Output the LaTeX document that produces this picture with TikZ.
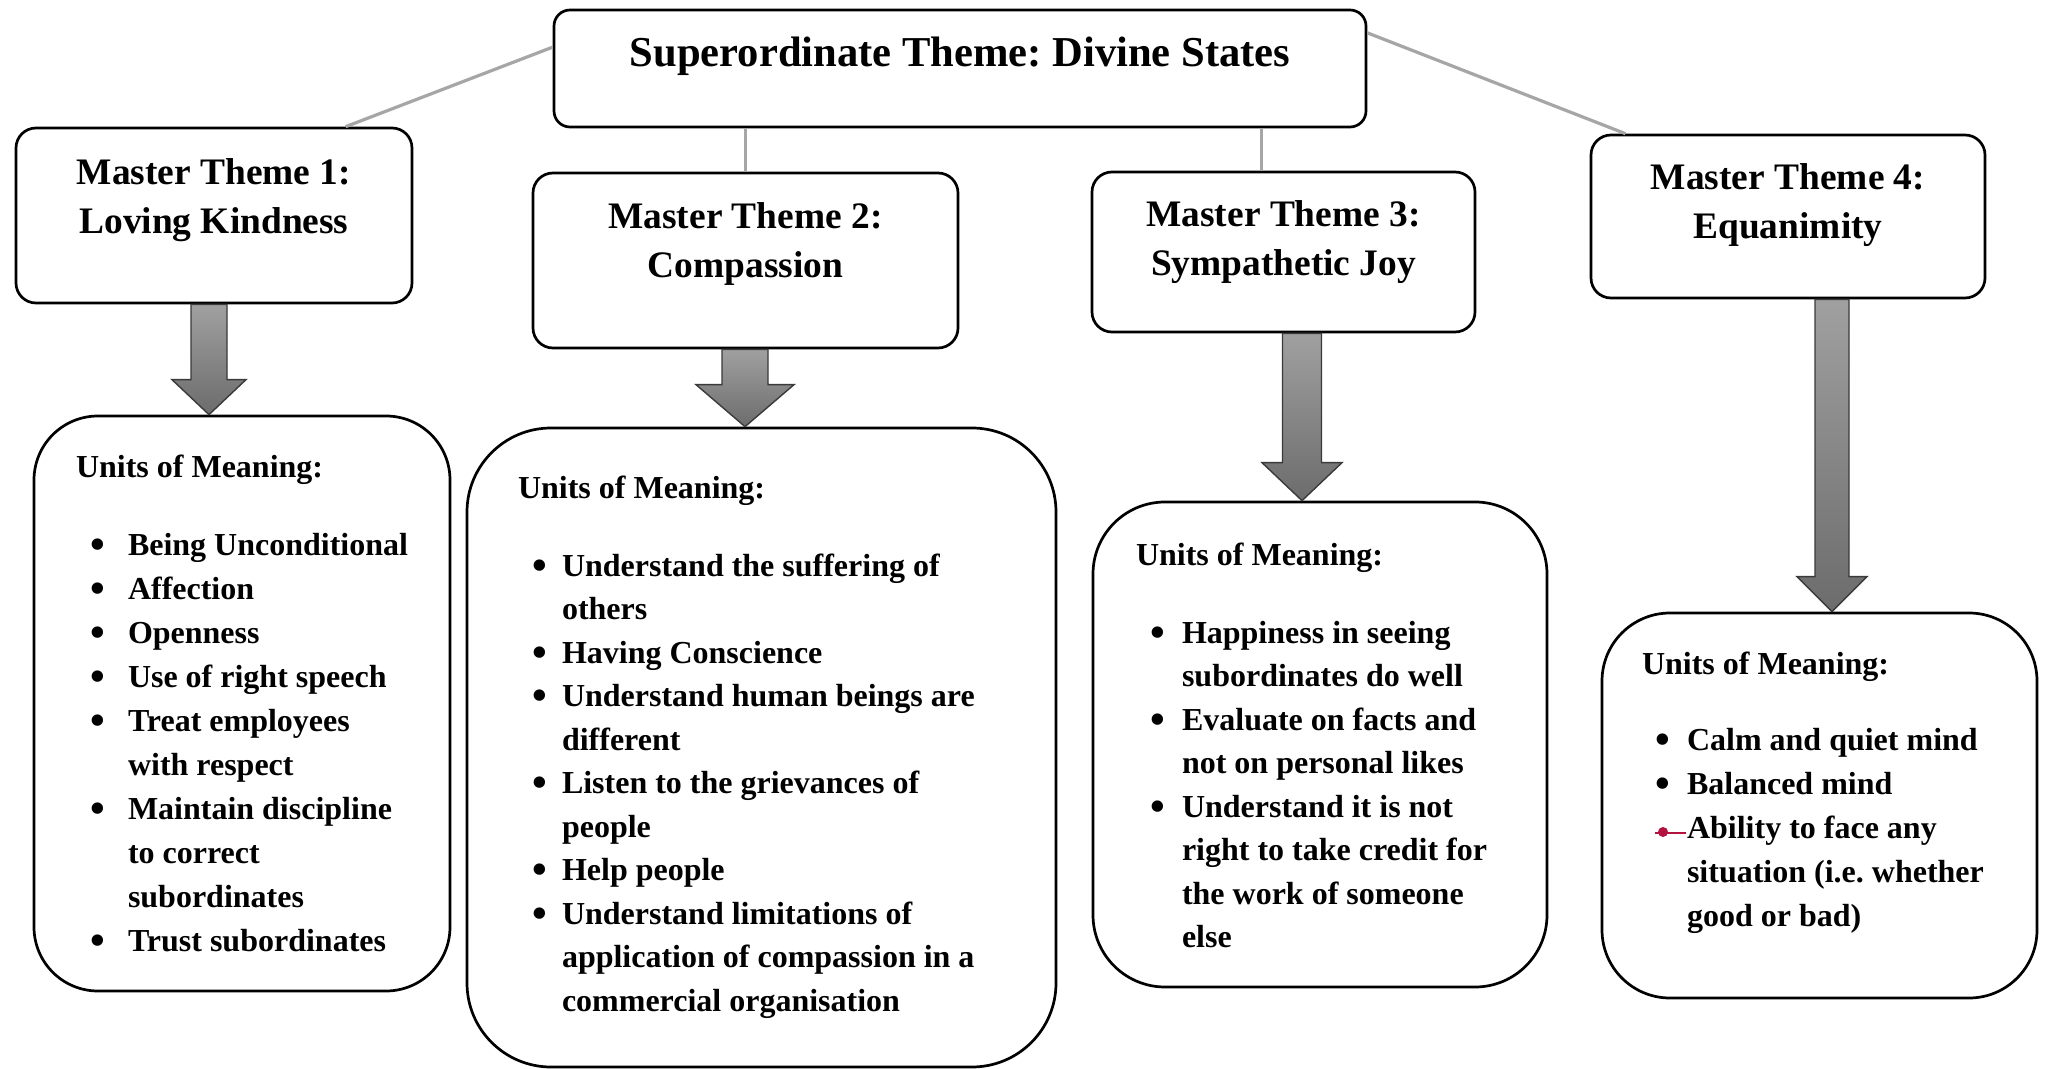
\documentclass[tikz,border=0pt]{standalone}
\usepackage{fontspec}
\setmainfont{Liberation Serif}
\usetikzlibrary{calc}

\definecolor{linkgray}{HTML}{A6A6A6}
\definecolor{arrowtop}{HTML}{A0A0A0}
\definecolor{arrowbot}{HTML}{6C6C6C}
\definecolor{arrowedge}{HTML}{3A3A3A}
\definecolor{markred}{HTML}{B3123F}

\newcommand{\titlefont}{\fontsize{21.3pt}{26pt}\selectfont\bfseries}
\newcommand{\themefont}{\fontsize{18.7pt}{24.2pt}\selectfont\bfseries}
\newcommand{\unitfont}{\fontsize{16pt}{21.75pt}\selectfont\bfseries}
\newcommand{\wideunitfont}{\fontsize{16pt}{22pt}\selectfont\bfseries}
% large bullet centred in a slot of the given width
\newcommand{\bul}[1]{\makebox[#1][c]{\raisebox{-1.6pt}{\fontsize{21pt}{21pt}\selectfont\textbullet}}}

\tikzset{
  themebox/.style={draw=black, line width=1.35pt, fill=white, rounded corners=10pt, inner sep=0pt},
  unitbox/.style={draw=black, line width=1.35pt, fill=white, inner sep=0pt},
  link/.style={draw=linkgray, line width=1.6pt},
  blockarrow/.style={draw=arrowedge, line width=0.7pt, top color=arrowtop, bottom color=arrowbot, line join=miter},
  txt/.style={inner sep=0pt, outer sep=0pt},
}

% shaded block arrow: x-coordinate, source node, target node,
% shaft half width, head half width, head length
\newcommand{\shadedarrow}[6]{%
  \path[blockarrow]
    ($(#1 |- #2.south)+(-#4,0)$) -- ($(#1 |- #2.south)+(#4,0)$)
    -- ($(#1 |- #3.north)+(#4,-#6)$) -- ($(#1 |- #3.north)+(#5,-#6)$)
    -- (#1 |- #3.north)
    -- ($(#1 |- #3.north)+(-#5,-#6)$) -- ($(#1 |- #3.north)+(-#4,-#6)$) -- cycle;}

\begin{document}
\frenchspacing
\begin{tikzpicture}[x=0.5pt,y=-0.5pt]
\fill[white] (0,0) rectangle (2045,1069);
\useasboundingbox (0,0) rectangle (2045,1069);

% boxes
\node[themebox, rounded corners=8pt, minimum width=406pt, minimum height=58.5pt] (super) at (960,68.5) {};
\node[themebox, minimum width=198pt, minimum height=87.5pt] (mt1) at (214,215.5) {};
\node[themebox, minimum width=212.5pt, minimum height=87.5pt] (mt2) at (745.5,260.5) {};
\node[themebox, minimum width=191.5pt, minimum height=80pt] (mt3) at (1283.5,252) {};
\node[themebox, minimum width=197pt, minimum height=81.5pt] (mt4) at (1788,216.5) {};

\node[unitbox, rounded corners=32pt, minimum width=208pt, minimum height=287.5pt] (u1) at (242,703.5) {};
\node[unitbox, rounded corners=42pt, minimum width=294.5pt, minimum height=319.5pt] (u2) at (761.5,747.5) {};
\node[unitbox, rounded corners=36pt, minimum width=227pt, minimum height=242.5pt] (u3) at (1320,744.5) {};
\node[unitbox, rounded corners=34pt, minimum width=217.5pt, minimum height=192.5pt] (u4) at (1819.5,805.5) {};

% grey links from the superordinate theme
\draw[link] (super.177.7) -- (mt1.34.6);
\draw[link] (super.5.1) -- (mt4.153.1);
\draw[link] (mt2.north) -- (mt2.north |- super.south);
\draw[link] (mt3.105) -- (mt3.105 |- super.south);

% block arrows down to the units of meaning
\coordinate (ax1) at (209,0);
\coordinate (ax2) at (745,0);
\coordinate (ax3) at (1302,0);
\coordinate (ax4) at (1832,0);
\shadedarrow{ax1}{mt1}{u1}{18}{37}{35}
\shadedarrow{ax2}{mt2}{u2}{23}{49}{42}
\shadedarrow{ax3}{mt3}{u3}{19.5}{40}{38}
\shadedarrow{ax4}{mt4}{u4}{17}{35}{35}

% titles
\node[txt, anchor=base] (supertxt) at (960,67) {\titlefont Superordinate Theme: Divine States};
\node[txt, anchor=base] (mt1txt) at (214,185) {\themefont\begin{tabular}[t]{@{}c@{}}Master Theme 1:\\Loving Kindness\end{tabular}};
\node[txt, anchor=base] (mt2txt) at (745.5,229) {\themefont\begin{tabular}[t]{@{}c@{}}Master Theme 2:\\Compassion\end{tabular}};
\node[txt, anchor=base] (mt3txt) at (1283.5,227) {\themefont\begin{tabular}[t]{@{}c@{}}Master Theme 3:\\Sympathetic Joy\end{tabular}};
\node[txt, anchor=base] (mt4txt) at (1788,190) {\themefont\begin{tabular}[t]{@{}c@{}}Master Theme 4:\\Equanimity\end{tabular}};

% units of meaning
\node[txt, anchor=base west] (u1head) at (76,478) {\unitfont Units of Meaning:};
\node[txt, anchor=base west] (u1list) at (68,555) {\wideunitfont\begin{tabular}[t]{@{}l@{}l@{}}
\bul{30pt} & Being Unconditional\\
\bul{30pt} & Affection\\
\bul{30pt} & Openness\\
\bul{30pt} & Use of right speech\\
\bul{30pt} & Treat employees\\
 & with respect\\
\bul{30pt} & Maintain discipline\\
 & to correct\\
 & subordinates\\
\bul{30pt} & Trust subordinates
\end{tabular}};

\node[txt, anchor=base west] (u2head) at (518,498) {\unitfont Units of Meaning:};
\node[txt, anchor=base west] (u2list) at (518,576) {\unitfont\begin{tabular}[t]{@{}l@{}l@{}}
\bul{22pt} & Understand the suffering of\\
 & others\\
\bul{22pt} & Having Conscience\\
\bul{22pt} & Understand human beings are\\
 & different\\
\bul{22pt} & Listen to the grievances of\\
 & people\\
\bul{22pt} & Help people\\
\bul{22pt} & Understand limitations of\\
 & application of compassion in a\\
 & commercial organisation
\end{tabular}};

\node[txt, anchor=base west] (u3head) at (1136,565) {\unitfont Units of Meaning:};
\node[txt, anchor=base west] (u3list) at (1134,643) {\unitfont\begin{tabular}[t]{@{}l@{}l@{}}
\bul{24pt} & Happiness in seeing\\
 & subordinates do well\\
\bul{24pt} & Evaluate on facts and\\
 & not on personal likes\\
\bul{24pt} & Understand it is not\\
 & right to take credit for\\
 & the work of someone\\
 & else
\end{tabular}};

\node[txt, anchor=base west] (u4head) at (1642,674) {\unitfont Units of Meaning:};
\node[txt, anchor=base west] (u4list) at (1639,750) {\wideunitfont\begin{tabular}[t]{@{}l@{}l@{}}
\bul{24pt} & Calm and quiet mind\\
\bul{24pt} & Balanced mind\\
\makebox[24pt]{} & Ability to face any\\
 & situation (i.e. whether\\
 & good or bad)
\end{tabular}};

% red marker in front of the third item
\draw[markred, line width=1pt] (1655,833) -- (1686,833);
\fill[markred] (1663,832) circle (2.5pt);
\end{tikzpicture}
\end{document}
